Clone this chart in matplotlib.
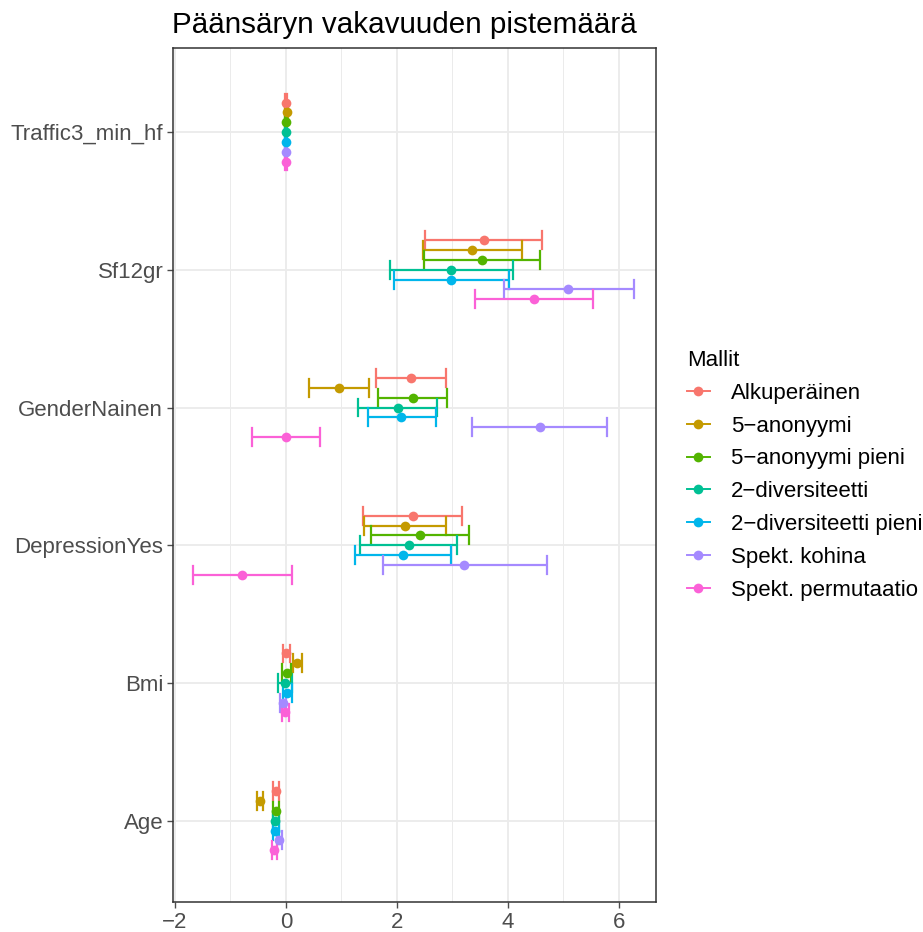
import numpy as np
import matplotlib
matplotlib.use("Agg")
import matplotlib.pyplot as plt
from matplotlib.lines import Line2D

plt.rcParams['font.family'] = ['Liberation Sans', 'DejaVu Sans']

variables = ["Age", "Bmi", "DepressionYes", "GenderNainen", "Sf12gr", "Traffic3_min_hf"]
models = ["Alkuperäinen", "5\u2212anonyymi", "5\u2212anonyymi pieni", "2\u2212diversiteetti",
          "2\u2212diversiteetti pieni", "Spekt. kohina", "Spekt. permutaatio"]
colors = ["#F8766D", "#C49A00", "#53B400", "#00C094", "#00B6EB", "#A58AFF", "#FB61D7"]

# estimates per model, in the order of `variables`
est = {
    "Alkuperäinen":            [-0.18, 0.00, 2.28, 2.25, 3.56, 0.00],
    "5\u2212anonyymi":         [-0.47, 0.20, 2.15, 0.95, 3.36, 0.01],
    "5\u2212anonyymi pieni":   [-0.18, 0.01, 2.42, 2.28, 3.53, 0.00],
    "2\u2212diversiteetti":    [-0.19, -0.02, 2.21, 2.02, 2.97, 0.00],
    "2\u2212diversiteetti pieni": [-0.19, 0.02, 2.11, 2.08, 2.98, 0.00],
    "Spekt. kohina":           [-0.12, -0.05, 3.21, 4.57, 5.09, 0.00],
    "Spekt. permutaatio":      [-0.21, -0.01, -0.79, 0.00, 4.47, 0.00],
}
lower = {
    "Alkuperäinen":            [-0.23, -0.06, 1.39, 1.63, 2.51, -0.02],
    "5\u2212anonyymi":         [-0.52, 0.12, 1.41, 0.41, 2.47, -0.01],
    "5\u2212anonyymi pieni":   [-0.23, -0.08, 1.53, 1.66, 2.49, -0.02],
    "2\u2212diversiteetti":    [-0.24, -0.15, 1.33, 1.30, 1.87, -0.02],
    "2\u2212diversiteetti pieni": [-0.24, -0.06, 1.24, 1.47, 1.95, -0.02],
    "Spekt. kohina":           [-0.17, -0.10, 1.74, 3.35, 3.92, -0.02],
    "Spekt. permutaatio":      [-0.26, -0.07, -1.67, -0.61, 3.41, -0.02],
}
upper = {
    "Alkuperäinen":            [-0.12, 0.07, 3.17, 2.88, 4.62, 0.02],
    "5\u2212anonyymi":         [-0.41, 0.29, 2.88, 1.49, 4.26, 0.03],
    "5\u2212anonyymi pieni":   [-0.12, 0.09, 3.30, 2.91, 4.58, 0.02],
    "2\u2212diversiteetti":    [-0.13, 0.11, 3.09, 2.73, 4.09, 0.02],
    "2\u2212diversiteetti pieni": [-0.13, 0.10, 2.97, 2.70, 4.01, 0.02],
    "Spekt. kohina":           [-0.07, 0.00, 4.70, 5.79, 6.27, 0.02],
    "Spekt. permutaatio":      [-0.16, 0.06, 0.10, 0.62, 5.53, 0.02],
}

fig = plt.figure(figsize=(9.23, 9.32), dpi=100)
ax = fig.add_axes([0.1874, 0.0322, 0.5233, 0.9163])

dodge = 0.5
n = len(models)
cap = 0.065
for i, m in enumerate(models):
    offset = (n - 1 - i - (n - 1) / 2) * dodge / n
    for j, v in enumerate(variables):
        y = j + 1 + offset
        lo, hi, e = lower[m][j], upper[m][j], est[m][j]
        ax.plot([lo, hi], [y, y], color=colors[i], lw=1.6, solid_capstyle='butt', zorder=3)
        ax.plot([lo, lo], [y - cap, y + cap], color=colors[i], lw=1.6, zorder=3)
        ax.plot([hi, hi], [y - cap, y + cap], color=colors[i], lw=1.6, zorder=3)
        ax.plot([e], [y], 'o', color=colors[i], ms=7, mec='none', zorder=4)

ax.set_xlim(-2.036, 6.667)
ax.set_ylim(0.41, 6.61)
ax.set_yticks(range(1, len(variables) + 1))
ax.set_yticklabels(variables)
ax.set_xticks([-2, 0, 2, 4, 6])
ax.set_xticklabels(["\u22122", "0", "2", "4", "6"])
ax.set_xticks([-1, 1, 3, 5], minor=True)
ax.tick_params(axis='both', which='major', labelsize=16, colors='#4D4D4D',
               length=4, width=1, labelcolor='#4D4D4D', pad=3)
ax.tick_params(axis='x', which='minor', length=0)
ax.grid(True, which='major', color='#EBEBEB', lw=1.3, zorder=0)
ax.grid(True, which='minor', axis='x', color='#EBEBEB', lw=0.7, zorder=0)
ax.set_axisbelow(True)
for s in ax.spines.values():
    s.set_color('#333333')
    s.set_linewidth(1.1)

fig.text(0.186, 0.973, "Päänsäryn vakavuuden pistemäärä", fontsize=21.3, ha='left', va='center')

handles = [Line2D([0], [0], color=c, lw=1.4, marker='o', ms=7, mec='none') for c in colors]
leg = fig.legend(handles, models, title="Mallit", loc='center left',
                 bbox_to_anchor=(0.744, 0.490), frameon=False, fontsize=16,
                 title_fontsize=16, handlelength=1.05, handletextpad=0.95,
                 labelspacing=0.53, borderaxespad=0, borderpad=0)
leg._legend_box.align = "left"

fig.savefig("out.png", dpi=100, facecolor='white')
